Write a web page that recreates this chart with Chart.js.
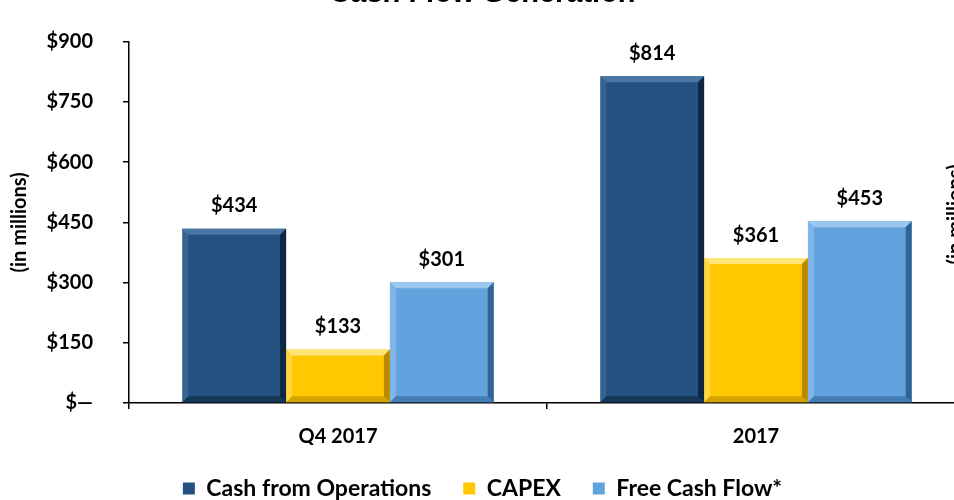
<!DOCTYPE html>
<html>
<head>
<meta charset="utf-8">
<script src="https://cdn.jsdelivr.net/npm/chart.js@4"></script>
<style>
html, body { margin: 0; padding: 0; width: 954px; height: 500px; overflow: hidden; background: #fff; }
#wrap { position: absolute; left: 0; top: -40px; width: 970px; height: 550px; }
</style>
</head>
<body>
<div id="wrap"><canvas id="myChart"></canvas></div>
<script>
const periods = ['Q4 2017', '2017'];
const seriesNames = ['Cash from Operations', 'CAPEX', 'Free Cash Flow*'];
const cashFromOps = [434, 814];
const capex = [133, 361];
const freeCashFlow = [301, 453];
const yMin = 0;
const yMax = 900;
const yStep = 150;

const labelFont = { family: 'Lato', weight: 'bold', size: 20 };

// bevel look of the original bars: light top/left edge, dark right/bottom edge
const bevel = [
    { light: '#4A76A3', dark: '#0F2740' },
    { light: '#FFE47A', dark: '#B88A00' },
    { light: '#9CC8F0', dark: '#2F6494' }
];

const barDeco = {
    id: 'barDeco',
    afterDatasetsDraw(chart) {
        const ctx = chart.ctx;
        const b = 6;
        chart.data.datasets.forEach((ds, i) => {
            chart.getDatasetMeta(i).data.forEach((bar, j) => {
                const l = bar.x - bar.width / 2, r = bar.x + bar.width / 2;
                const t = bar.y, bt = bar.base;
                ctx.save();
                ctx.fillStyle = bevel[i].light;
                ctx.beginPath();
                ctx.moveTo(l, t); ctx.lineTo(r, t); ctx.lineTo(r - b, t + b); ctx.lineTo(l + b, t + b);
                ctx.closePath(); ctx.fill();
                ctx.globalAlpha = 0.5;
                ctx.beginPath();
                ctx.moveTo(l, t); ctx.lineTo(l + b, t + b); ctx.lineTo(l + b, bt - b); ctx.lineTo(l, bt);
                ctx.closePath(); ctx.fill();
                ctx.globalAlpha = 1;
                ctx.fillStyle = bevel[i].dark;
                ctx.beginPath();
                ctx.moveTo(r, t); ctx.lineTo(r, bt); ctx.lineTo(r - b, bt - b); ctx.lineTo(r - b, t + b);
                ctx.closePath(); ctx.fill();
                ctx.globalAlpha = 0.6;
                ctx.beginPath();
                ctx.moveTo(l, bt); ctx.lineTo(r, bt); ctx.lineTo(r - b, bt - b); ctx.lineTo(l + b, bt - b);
                ctx.closePath(); ctx.fill();
                ctx.restore();
            });
        });
        // value labels above bars
        ctx.save();
        ctx.font = 'bold 20px Lato';
        ctx.fillStyle = '#000';
        ctx.textAlign = 'center';
        ctx.textBaseline = 'middle';
        chart.data.datasets.forEach((ds, i) => {
            chart.getDatasetMeta(i).data.forEach((bar, j) => {
                ctx.fillText('$' + ds.data[j], bar.x, bar.y - 23);
            });
        });
        ctx.restore();
    },
    afterDraw(chart) {
        // second "(in millions)" title, cut off at the right edge
        const ctx = chart.ctx;
        const a = chart.chartArea;
        ctx.save();
        ctx.translate(a.right - 9, (a.top + a.bottom) / 2 - 8);
        ctx.rotate(-Math.PI / 2);
        ctx.font = 'bold 20px Lato';
        ctx.fillStyle = '#000';
        ctx.textAlign = 'center';
        ctx.textBaseline = 'middle';
        ctx.fillText('(in millions)', 0, 0);
        ctx.restore();
    }
};

const data = {
    labels: periods,
    datasets: [{
        label: seriesNames[0],
        data: cashFromOps,
        backgroundColor: '#245181'
    }, {
        label: seriesNames[1],
        data: capex,
        backgroundColor: '#FFC800'
    }, {
        label: seriesNames[2],
        data: freeCashFlow,
        backgroundColor: '#62A3DF'
    }]
};

const options = {
    responsive: true,
    maintainAspectRatio: false,
    animation: false,
    layout: { padding: { left: 0, right: 5, top: 0, bottom: 0 } },
    datasets: {
        bar: { categoryPercentage: 0.745, barPercentage: 1.0 }
    },
    plugins: {
        title: {
            display: true,
            text: 'Cash Flow Generation',
            color: '#000',
            font: { family: 'Liberation Sans', weight: 'bold', size: 29 },
            padding: { top: 17, bottom: 30 }
        },
        legend: {
            position: 'bottom',
            labels: {
                font: { family: 'Lato', weight: 'bold', size: 23 },
                color: '#000',
                boxWidth: 12,
                boxHeight: 12,
                padding: 32
            }
        },
        tooltip: { enabled: false }
    },
    scales: {
        x: {
            afterFit(scale) { scale.height = 42; },
            grid: { offset: true, drawOnChartArea: false, tickLength: 6, color: '#000', lineWidth: 1.5 },
            border: { color: '#000', width: 1.5 },
            ticks: { font: labelFont, color: '#000', padding: 16 }
        },
        y: {
            min: yMin,
            max: yMax,
            afterFit(scale) { scale.width = 129; },
            grid: { drawOnChartArea: false, tickLength: 6, color: '#000', lineWidth: 1.5 },
            border: { color: '#000', width: 1.5 },
            ticks: {
                stepSize: yStep,
                font: labelFont,
                color: '#000',
                padding: 30,
                callback: v => v === 0 ? '$\u2014' : '$' + v
            },
            title: {
                display: true,
                text: '(in millions)',
                font: labelFont,
                color: '#000',
                padding: { top: 8, bottom: 0 }
            }
        }
    }
};

const myChart = new Chart(document.getElementById('myChart'), {
    type: 'bar',
    data,
    options,
    plugins: [barDeco]
});
</script>
</body>
</html>
